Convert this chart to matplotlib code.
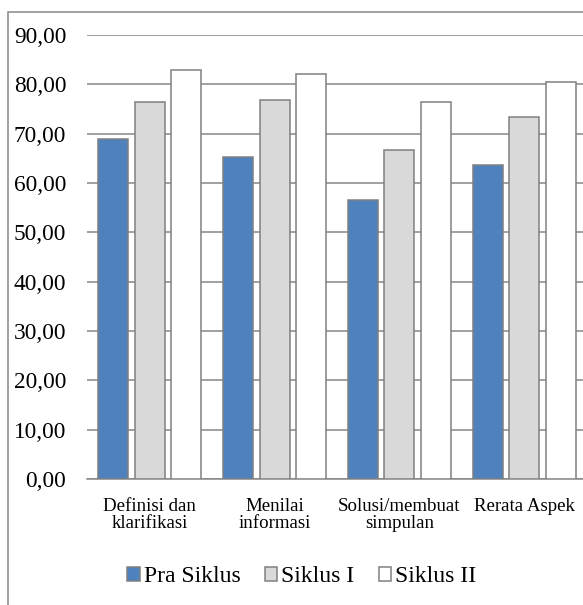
import matplotlib
matplotlib.use("Agg")
import matplotlib.pyplot as plt
from matplotlib.patches import Rectangle
import numpy as np

categories = ["Definisi dan\nklarifikasi", "Menilai\ninformasi", "Solusi/membuat\nsimpulan", "Rerata Aspek"]
series_names = ["Pra Siklus", "Siklus I", "Siklus II"]
pra_siklus = [69.0, 65.3, 56.5, 63.6]
siklus_1 = [76.4, 76.9, 66.7, 73.3]
siklus_2 = [82.9, 82.0, 76.4, 80.4]
y_ticks = [0, 10, 20, 30, 40, 50, 60, 70, 80, 90]
y_tick_labels = ["0,00", "10,00", "20,00", "30,00", "40,00", "50,00", "60,00", "70,00", "80,00", "90,00"]

colors = ["#4F81BD", "#D9D9D9", "#FFFFFF"]
edge = "#808080"
grid_c = "#868686"

plt.rcParams['font.family'] = ['Liberation Serif', 'DejaVu Serif']

W, H = 583, 605
fig = plt.figure(figsize=(W / 100, H / 100), dpi=100)

# outer chart frame (cut off at right and bottom)
fig.patches.append(Rectangle((8 / W, -0.2), 1.5, (1 - 12 / H) + 0.2,
                             transform=fig.transFigure, fill=False,
                             edgecolor="#878787", linewidth=1.1, zorder=0))

ax = fig.add_axes([87 / W, 1 - 479 / H, 500 / W, 444 / H])
ax.set_facecolor("none")

x = np.arange(len(categories))
bw = 0.24
offs = [-0.295, 0.0, 0.295]
for vals, off, c, name in zip([pra_siklus, siklus_1, siklus_2], offs, colors, series_names):
    ax.bar(x + off, vals, width=bw, color=c, edgecolor=edge, linewidth=1.1,
           label=name, zorder=3)

ax.set_xlim(-0.5, len(categories) - 0.5)
ax.set_ylim(0, 90)
ax.set_yticks(y_ticks)
ax.set_yticklabels(y_tick_labels, fontsize=16.8)
ax.set_xticks(x)
ax.set_xticklabels(categories, fontsize=13.6, linespacing=0.95)
ax.tick_params(axis='y', length=0, pad=15)
ax.tick_params(axis='x', length=0, pad=14)
ax.yaxis.grid(True, color=grid_c, linewidth=1.1, zorder=0)
ax.set_axisbelow(True)
for s in ["top", "right", "left"]:
    ax.spines[s].set_visible(False)
ax.spines["bottom"].set_color(grid_c)
ax.spines["bottom"].set_linewidth(1.1)

leg = fig.legend(loc="center", bbox_to_anchor=(302 / W, 1 - 577 / H), ncol=3,
                 frameon=False, fontsize=17, handlelength=0.51, handleheight=0.51,
                 handletextpad=0.17, columnspacing=1.05)

fig.savefig("out.png", dpi=100)
